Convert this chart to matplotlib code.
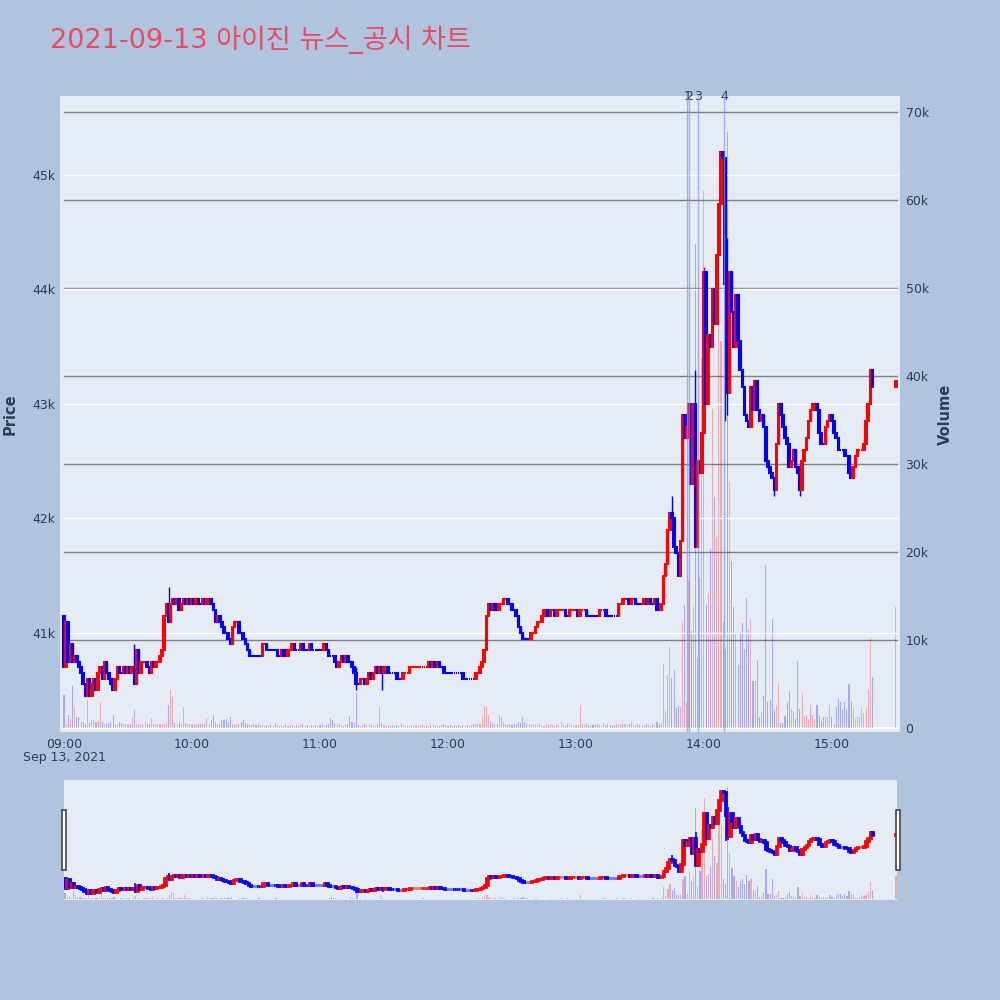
import numpy as np
import matplotlib.pyplot as plt
from matplotlib.patches import Rectangle

# 1분봉 종가 (09:00 ~ 15:19)
closes = [
    40700, 41100, 40750, 40900, 40750, 40800, 40750, 40700, 40650, 40550,
    40450, 40600, 40450, 40550, 40600, 40500, 40650, 40700, 40600, 40750,
    40650, 40600, 40550, 40500, 40600, 40700, 40650, 40650, 40700, 40650,
    40700, 40650, 40700, 40550, 40850, 40650, 40750, 40750, 40750, 40700,
    40650, 40750, 40700, 40750, 40750, 40800, 40850, 41150, 41250, 41100,
    41250, 41300, 41250, 41300, 41200, 41250, 41300, 41250, 41300, 41250,
    41300, 41250, 41300, 41250, 41250, 41300, 41250, 41300, 41300, 41250,
    41200, 41100, 41150, 41100, 41050, 41000, 41000, 40950, 40900, 41050,
    41100, 41100, 41000, 41000, 40950, 40900, 40850, 40800, 40800, 40800,
    40800, 40800, 40800, 40900, 40900, 40850, 40850, 40850, 40850, 40850,
    40800, 40800, 40850, 40800, 40800, 40850, 40850, 40900, 40850, 40850,
    40850, 40900, 40850, 40850, 40850, 40900, 40850, 40850, 40850, 40850,
    40850, 40850, 40900, 40850, 40800, 40800, 40800, 40750, 40700, 40750,
    40800, 40750, 40800, 40750, 40750, 40700, 40650, 40550, 40550, 40600,
    40600, 40550, 40600, 40650, 40600, 40650, 40700, 40650, 40700, 40650,
    40700, 40700, 40650, 40650, 40650, 40650, 40600, 40600, 40600, 40650,
    40650, 40650, 40700, 40700, 40700, 40700, 40700, 40700, 40700, 40700,
    40700, 40750, 40700, 40750, 40700, 40750, 40700, 40700, 40650, 40650,
    40650, 40650, 40650, 40650, 40650, 40650, 40650, 40600, 40600, 40600,
    40600, 40600, 40600, 40650, 40650, 40700, 40750, 40850, 41150, 41250,
    41200, 41250, 41200, 41200, 41250, 41250, 41300, 41300, 41250, 41250,
    41200, 41200, 41150, 41050, 41000, 40950, 40950, 40950, 40950, 41000,
    41000, 41050, 41100, 41100, 41150, 41200, 41200, 41150, 41200, 41200,
    41150, 41200, 41200, 41200, 41200, 41150, 41150, 41200, 41200, 41200,
    41200, 41150, 41200, 41200, 41200, 41150, 41150, 41150, 41150, 41150,
    41150, 41200, 41200, 41200, 41150, 41150, 41150, 41150, 41150, 41150,
    41250, 41250, 41300, 41300, 41300, 41250, 41300, 41300, 41250, 41250,
    41250, 41250, 41300, 41250, 41300, 41250, 41250, 41300, 41200, 41200,
    41250, 41500, 41600, 41900, 42050, 42000, 41750, 41700, 41500, 41800,
    42900, 42700, 42800, 43000, 42300, 43000, 41750, 42500, 42400, 42750,
    44150, 43000, 43600, 43500, 44000, 43700, 44300, 44750, 45200, 45150,
    44050, 43100, 44150, 43800, 43500, 43950, 43550, 43300, 43150, 42900,
    42850, 42800, 43150, 42950, 43200, 42950, 42850, 42900, 42800, 42500,
    42450, 42400, 42350, 42250, 42650, 43000, 42900, 42800, 42700, 42650,
    42450, 42500, 42600, 42450, 42400, 42250, 42500, 42600, 42700, 42850,
    42950, 43000, 43000, 42950, 42750, 42650, 42650, 42800, 42850, 42900,
    42850, 42750, 42700, 42600, 42600, 42600, 42550, 42550, 42400, 42350,
    42450, 42550, 42600, 42600, 42600, 42650, 42850, 43000, 43300, 43150,
]

volumes = [
    3750, 500, 1500, 1000, 4800, 2400, 1300, 1300, 700, 700,
    500, 3200, 600, 900, 900, 700, 800, 3000, 700, 500,
    500, 600, 700, 1500, 500, 400, 700, 600, 400, 500,
    500, 400, 1300, 2000, 400, 500, 400, 500, 700, 500,
    500, 1100, 400, 500, 500, 400, 500, 400, 600, 2600,
    4300, 3500, 600, 500, 700, 500, 2400, 600, 500, 500,
    400, 300, 500, 400, 500, 600, 400, 1100, 500, 900,
    1500, 700, 400, 500, 900, 900, 1000, 700, 1300, 400,
    300, 400, 500, 700, 900, 600, 400, 300, 300, 400,
    300, 500, 300, 300, 200, 300, 200, 300, 200, 600,
    300, 200, 300, 200, 400, 200, 300, 300, 200, 300,
    200, 300, 400, 200, 300, 200, 300, 200, 300, 200,
    300, 400, 200, 300, 500, 1100, 900, 600, 300, 400,
    300, 200, 300, 400, 1400, 700, 600, 4000, 300, 200,
    300, 500, 300, 400, 300, 300, 200, 400, 2400, 600,
    300, 200, 300, 200, 300, 200, 300, 200, 400, 300,
    200, 300, 200, 300, 200, 300, 200, 300, 500, 200,
    300, 200, 300, 400, 200, 300, 200, 300, 400, 300,
    200, 300, 200, 300, 200, 300, 200, 300, 200, 300,
    200, 300, 400, 500, 600, 400, 1200, 2500, 2400, 1500,
    800, 600, 500, 400, 1500, 1300, 700, 400, 300, 400,
    300, 500, 400, 700, 600, 1300, 700, 500, 300, 400,
    300, 500, 300, 400, 300, 200, 400, 300, 500, 300,
    200, 400, 300, 700, 300, 200, 500, 300, 400, 200,
    300, 300, 2600, 400, 300, 400, 300, 200, 300, 300,
    400, 300, 200, 600, 300, 400, 300, 200, 300, 500,
    300, 400, 600, 500, 300, 400, 700, 300, 200, 500,
    300, 200, 300, 400, 300, 200, 500, 300, 700, 400,
    600, 7300, 1900, 6000, 9200, 5700, 6600, 2300, 2500, 2400,
    12200, 14000, 3000, 16700, 11000, 13800, 55000, 8000, 17200, 42000,
    61000, 14000, 15300, 20300, 36300, 26300, 21700, 55000, 44000, 12000,
    9000, 67700, 28000, 19000, 13800, 10800, 7200, 10900, 11900, 9000,
    14800, 11100, 12400, 5300, 5300, 7700, 1300, 1800, 3600, 18500,
    3000, 3200, 12400, 2000, 2500, 5100, 600, 600, 1400, 3000,
    4200, 2200, 1900, 1000, 7600, 2200, 4000, 1400, 1500, 1000,
    2600, 1500, 1000, 2600, 1400, 800, 1300, 1300, 1300, 2600,
    1300, 500, 2400, 3400, 2900, 2100, 2900, 2200, 5000, 2900,
    2300, 1000, 1300, 1300, 2300, 1700, 2300, 4300, 10200, 5800,
]

first_open = 41150
auction_minute = 390          # 15:30 동시호가
auction_close = 43200
auction_volume = 13800

# 꼬리 (분, 고가, 저가)
wick_minutes = [33, 49, 137, 149, 285, 296, 300, 310, 311, 333, 345]
wick_highs = [40900, 41400, 40700, 40700, 42200, 43300, 44200, 45100, 44450, 42350, 42400]
wick_lows = [40550, 41100, 40500, 40500, 42000, 41750, 42750, 42850, 42900, 42200, 42200]

news_minutes = [292.2, 293.2, 297.1, 309.4]
news_labels = ['1', '2', '3', '4']

price_ticks = [41000, 42000, 43000, 44000, 45000]
price_labels = ['41k', '42k', '43k', '44k', '45k']
vol_ticks = [0, 10000, 20000, 30000, 40000, 50000, 60000, 70000]
vol_labels = ['0', '10k', '20k', '30k', '40k', '50k', '60k', '70k']
time_ticks = [0, 60, 120, 180, 240, 300, 360]
time_labels = ['09:00', '10:00', '11:00', '12:00', '13:00', '14:00', '15:00']

BG = '#B0C4DE'
PLOT_BG = '#E5ECF6'
TXT = '#2a3f5f'
PRICE_LIM = (40135, 45690)
VOL_LIM = (-455, 71818)

x = np.append(np.arange(len(closes)), auction_minute)
c = np.array(closes + [auction_close], dtype=float)
o = np.concatenate([[first_open], c[:-1]])
h = np.maximum(o, c)
l = np.minimum(o, c)
for m, hi, lo in zip(wick_minutes, wick_highs, wick_lows):
    h[m] = max(h[m], hi)
    l[m] = min(l[m], lo)
v = np.array(volumes + [auction_volume], dtype=float)

# 상승 빨강, 하락 파랑 (보합은 직전 색 유지)
up = []
prev = True
for oo, cc in zip(o, c):
    if cc > oo:
        prev = True
    elif cc < oo:
        prev = False
    up.append(prev)
up = np.array(up)
cols = np.where(up, '#FF0000', '#0000FF')
vcols = [(1, 0, 0, 0.28) if u else (0, 0, 1, 0.28) for u in up]


def draw(ax_v, ax_p, body_lw, wick_lw, bar_w, vol_w):
    ax_v.bar(x, v, width=vol_w, color=vcols, zorder=2)
    ax_p.vlines(x, l, h, colors=cols, lw=wick_lw, zorder=3)
    ax_p.bar(x, np.abs(c - o), bottom=np.minimum(o, c), width=bar_w,
             color=cols, edgecolor=cols, linewidth=body_lw, zorder=4)
    ax_v.set_ylim(*VOL_LIM)
    ax_p.set_ylim(*PRICE_LIM)


fig = plt.figure(figsize=(10, 10), dpi=100)
fig.patch.set_facecolor(BG)

# 메인 차트
ax_v = fig.add_axes([0.06, 0.268, 0.84, 0.636])
ax_v.set_facecolor(PLOT_BG)
ax_p = ax_v.twinx()
ax_p.patch.set_visible(False)
for a in (ax_v, ax_p):
    for s in a.spines.values():
        s.set_visible(False)

xmin_f, xmax_f = 4 / 840, 837 / 840
for t in price_ticks:
    ax_p.axhline(t, xmin=xmin_f, xmax=xmax_f, color='white', lw=1.0, zorder=1)
for t in vol_ticks[1:]:
    ax_v.axhline(t, xmin=xmin_f, xmax=xmax_f, color='#808080', lw=1.0, zorder=1)
ax_v.axhline(0, xmin=xmin_f, xmax=xmax_f, color='white', lw=1.5, zorder=1)

draw(ax_v, ax_p, body_lw=1.5, wick_lw=1.0, bar_w=0.75, vol_w=0.5)

for nm in news_minutes:
    ax_p.axvline(nm, color='#7f95ea', alpha=0.7, lw=1.0, zorder=5)

ax_v.set_xlim(-1.875, 391.9)

for nm, lab in zip(news_minutes, news_labels):
    ax_p.text(nm, 1.0, lab, transform=ax_p.get_xaxis_transform(), ha='center',
              va='center', fontsize=9, color=TXT)

ax_p.yaxis.tick_left()
ax_p.set_yticks(price_ticks)
ax_p.set_yticklabels(price_labels)
ax_v.yaxis.tick_right()
ax_v.set_yticks(vol_ticks)
ax_v.set_yticklabels(vol_labels)
ax_v.set_xticks(time_ticks)
ax_v.set_xticklabels(time_labels)
ax_v.tick_params(axis='both', length=0, labelsize=9, colors=TXT, pad=4)
ax_p.tick_params(axis='y', length=0, labelsize=9, colors=TXT, pad=3)
ax_v.tick_params(axis='x', pad=4)
fig.text(0.0645, 0.243, 'Sep 13, 2021', ha='center', va='center', fontsize=9, color=TXT)

fig.text(0.010, 0.586, 'Price', rotation=90, ha='center', va='center',
         fontsize=10.5, color=TXT, fontweight='bold')
fig.text(0.945, 0.586, 'Volume', rotation=90, ha='center', va='center',
         fontsize=10.5, color=TXT, fontweight='bold')

fig.text(0.05, 0.96, '2021-09-13 아이진 뉴스_공시 차트', ha='left', va='center',
         fontsize=19.5, color='#EA4B63', family=['DejaVu Sans', 'Noto Sans CJK KR'])

# 레인지 슬라이더
sv = fig.add_axes([0.064, 0.10, 0.833, 0.12])
sv.set_facecolor(PLOT_BG)
sp = sv.twinx()
sp.patch.set_visible(False)
draw(sv, sp, body_lw=2.0, wick_lw=1.2, bar_w=0.7, vol_w=0.6)
sv.set_xlim(-0.5, 390.5)
for a in (sv, sp):
    a.set_xticks([])
    a.set_yticks([])
    for s in a.spines.values():
        s.set_visible(False)

for hx in (0.0615, 0.8955):
    fig.patches.append(Rectangle((hx, 0.130), 0.0045, 0.060, transform=fig.transFigure,
                                 facecolor='white', edgecolor='#444444', lw=1.2))

fig.savefig('out.png', dpi=100, facecolor=BG)
